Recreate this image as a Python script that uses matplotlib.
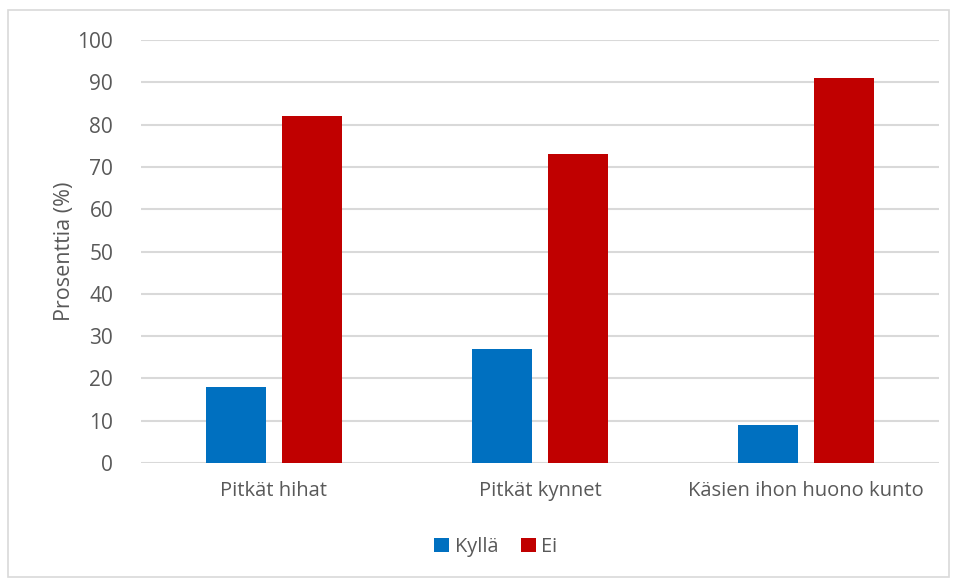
import matplotlib.pyplot as plt
import numpy as np
from matplotlib.patches import Rectangle

categories = ["Pitkät hihat", "Pitkät kynnet", "Käsien ihon huono kunto"]
kylla = [18, 27, 9]
ei = [82, 73, 91]
series_names = ["Kyllä", "Ei"]

plt.rcParams['font.family'] = ['Open Sans', 'DejaVu Sans']
text_color = "#595959"
grid_color = "#D9D9D9"

fig = plt.figure(figsize=(9.57, 5.79), dpi=100)
ax = fig.add_axes([0.1473, 0.2003, 0.834, 0.7306])

x = np.arange(len(categories))
w = 0.225
ax.bar(x - 0.142, kylla, w, color="#0070C0", label=series_names[0], zorder=3)
ax.bar(x + 0.142, ei, w, color="#C00000", label=series_names[1], zorder=3)

ax.set_xlim(-0.5, 2.5)
ax.set_ylim(0, 100)
ax.set_yticks(range(0, 101, 10))
ax.yaxis.grid(True, color=grid_color, linewidth=1.5, zorder=0)
ax.set_axisbelow(True)
for s in ax.spines.values():
    s.set_visible(False)
ax.tick_params(length=0, colors=text_color)
ax.tick_params(axis='y', labelsize=15, pad=20)
ax.tick_params(axis='x', labelsize=14.5, pad=13)
ax.set_xticks(x)
ax.set_xticklabels(categories)
ax.set_ylabel("Prosenttia (%)", fontsize=15.5, color=text_color, labelpad=2)

ax.legend(loc="center", bbox_to_anchor=(496 / 957, 1 - 547 / 579),
          bbox_transform=fig.transFigure, ncol=2, frameon=False,
          fontsize=14.3, labelcolor=text_color, handlelength=0.75,
          handleheight=0.75, handletextpad=0.3, columnspacing=1.1)

fig.patches.append(Rectangle((8 / 957, 2 / 579), 941 / 957, 567 / 579,
                             transform=fig.transFigure, fill=False,
                             edgecolor=grid_color, linewidth=1.2))

fig.savefig("out.png", dpi=100)
